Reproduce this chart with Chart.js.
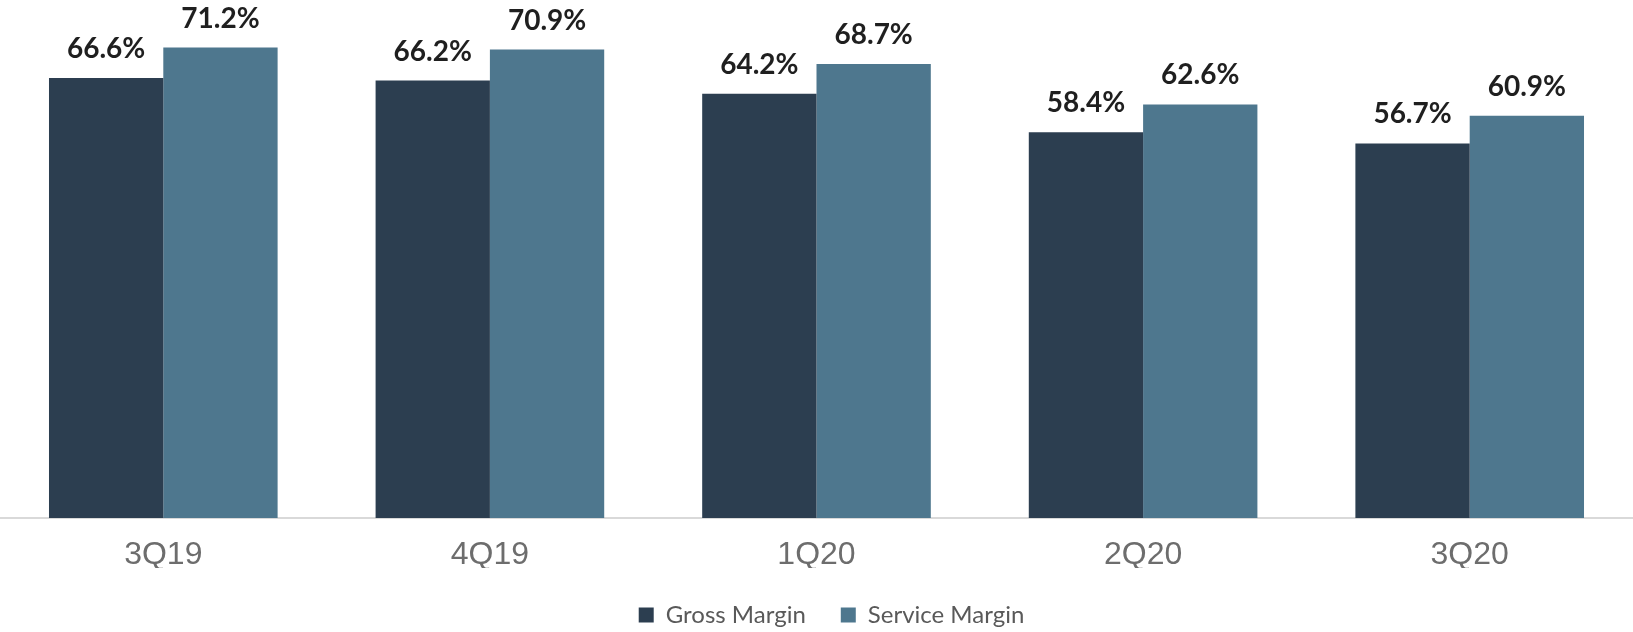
<!DOCTYPE html>
<html>
<head>
<meta charset="utf-8">
<title>Gross and Service Margin</title>
<script src="https://cdn.jsdelivr.net/npm/chart.js@4"></script>
<style>
    html, body { margin: 0; padding: 0; background: #fff; }
    #marginChart { display: block; }
</style>
</head>
<body>
<canvas id="marginChart" width="1633" height="632"></canvas>
<script>
const quarters = ["3Q19", "4Q19", "1Q20", "2Q20", "3Q20"];
const grossMargin = [66.6, 66.2, 64.2, 58.4, 56.7];
const serviceMargin = [71.2, 70.9, 68.7, 62.6, 60.9];

// value labels above each bar
const barLabels = {
    id: "barLabels",
    afterDatasetsDraw(chart) {
        const ctx = chart.ctx;
        ctx.save();
        ctx.font = "bold 28px Lato";
        ctx.fillStyle = "#1f1f1f";
        ctx.textAlign = "center";
        ctx.textBaseline = "alphabetic";
        chart.data.datasets.forEach((ds, i) => {
            chart.getDatasetMeta(i).data.forEach((bar, j) => {
                ctx.fillText(ds.data[j].toFixed(1) + "%", bar.x, bar.y - 20);
            });
        });
        ctx.restore();
    }
};

// keep the legend strip a fixed height, nudge it a bit right
const legendHeight = {
    id: "legendHeight",
    beforeLayout(chart) {
        const lg = chart.legend;
        if (lg && !lg._fixed) {
            const fit = lg.fit;
            lg.fit = function () {
                fit.call(this);
                this.height = 64;
            };
            lg._fixed = true;
        }
    },
    afterLayout(chart) {
        chart.legend.left += 15;
        chart.legend.right += 15;
    }
};

new Chart(document.getElementById("marginChart"), {
    type: "bar",
    data: {
        labels: quarters,
        datasets: [
            { label: "Gross Margin", data: grossMargin, backgroundColor: "#2c3e50", borderWidth: 0 },
            { label: "Service Margin", data: serviceMargin, backgroundColor: "#4e778e", borderWidth: 0 }
        ]
    },
    options: {
        responsive: false,
        animation: false,
        layout: { padding: 0 },
        datasets: { bar: { categoryPercentage: 0.7, barPercentage: 1.0 } },
        plugins: {
            legend: {
                position: "bottom",
                labels: {
                    font: { family: "Lato", size: 24 },
                    color: "#595959",
                    boxWidth: 15,
                    boxHeight: 15,
                    padding: 35
                }
            },
            tooltip: { enabled: false }
        },
        scales: {
            x: {
                grid: { display: false, drawTicks: false },
                border: { color: "#d9d9d9", width: 2 },
                ticks: {
                    color: "#6d6d6d",
                    font: { family: "'Liberation Sans', Arial, sans-serif", size: 32 },
                    padding: 18
                },
                afterFit(scale) { scale.height = 50; }
            },
            y: { display: false, min: 0, max: 78.4 }
        }
    },
    plugins: [barLabels, legendHeight]
});
</script>
</body>
</html>
